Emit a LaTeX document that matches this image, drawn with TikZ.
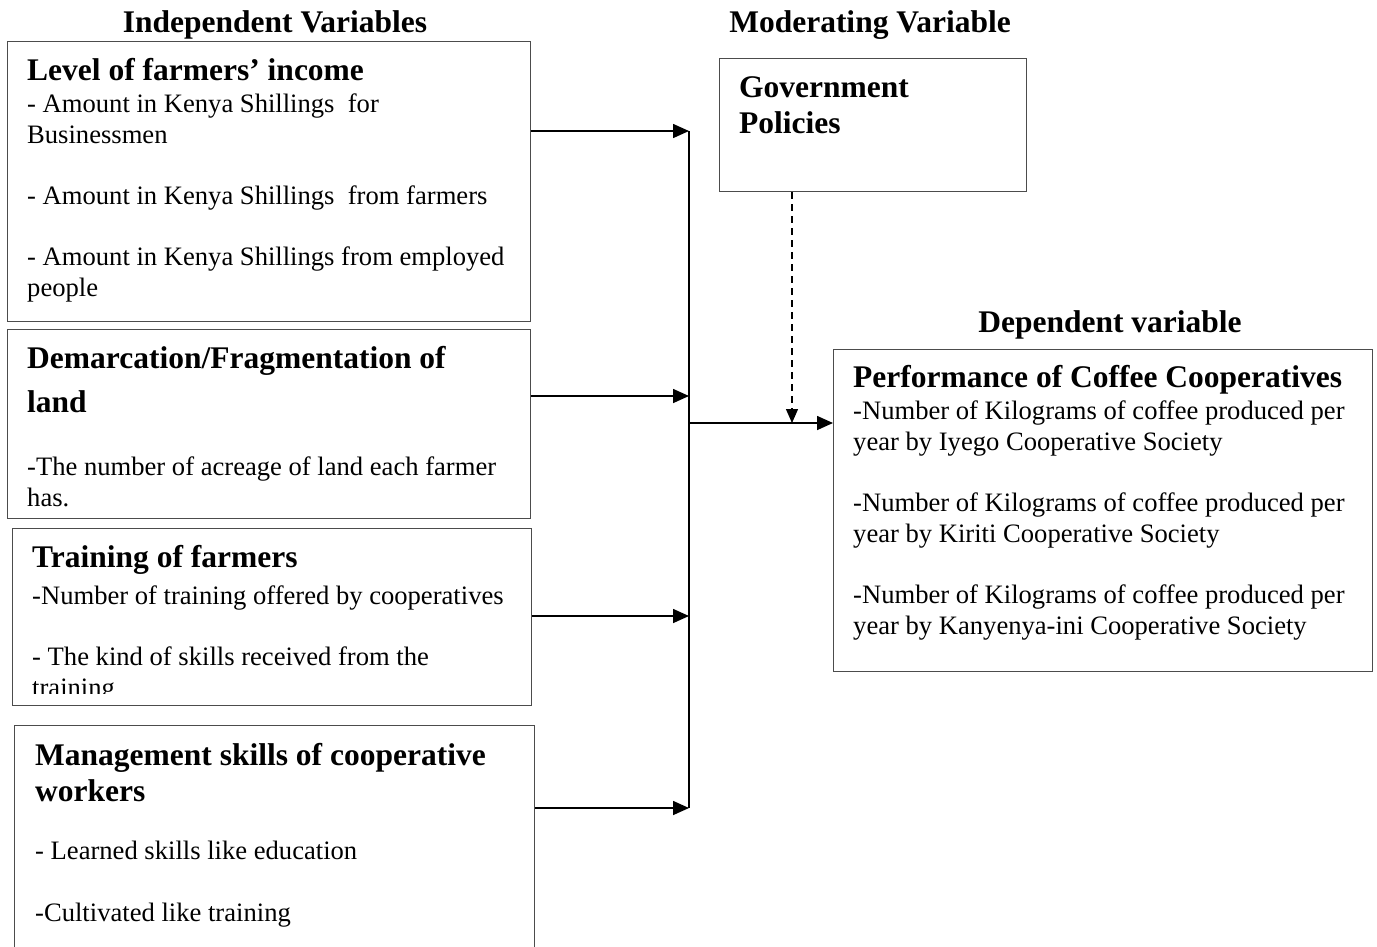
\documentclass[tikz,border=0pt]{standalone}
\usepackage{fontspec}
\setmainfont{Liberation Serif}
\usetikzlibrary{arrows.meta,positioning}

\begin{document}
\begin{tikzpicture}[x=1pt,y=-1pt,
  box/.style={draw=black!70,line width=1.1pt,anchor=north west,inner sep=0pt},
  head/.style={anchor=base west,inner sep=0pt,align=left,font=\fontsize{31.5}{36}\selectfont\bfseries},
  body/.style={anchor=base west,inner sep=0pt,align=left,font=\fontsize{26.6}{30.6}\selectfont},
  title/.style={anchor=base,inner sep=0pt,font=\fontsize{31.5}{36}\selectfont\bfseries},
  link/.style={line width=1.6pt,-{Triangle[length=16pt,width=14pt]}}]
\clip (0,0) rectangle (1377,946);
% headings
\node[title] (indep) at (275,32) {Independent Variables};
\node[title] (moder) at (870,32) {Moderating Variable};
\node[title] (depv) at (1110,332) {Dependent variable};
% boxes
\node[box,minimum width=523pt,minimum height=280pt] (inc) at (7,41) {};
\node[box,minimum width=523pt,minimum height=189pt] (land) at (7,329) {};
\node[box,minimum width=519pt,minimum height=177pt] (train) at (12,528) {};
\node[box,minimum width=520pt,minimum height=260pt] (mgmt) at (14,725) {};
\node[box,minimum width=307pt,minimum height=133pt] (gov) at (719,58) {};
\node[box,minimum width=539pt,minimum height=322pt] (perf) at (833,349) {};
% texts (placed by the baseline of their last line)
\node[head] (inchead) at (27,80) {Level of farmers’ income};
\node[body] (incbody) at (27,296) {- Amount in Kenya Shillings\ \ for\\Businessmen\\[30.6pt]- Amount in Kenya Shillings\ \ from farmers\\[30.6pt]- Amount in Kenya Shillings from employed\\people};
\node[head] (landhead) at (27,412) {Demarcation/Fragmentation of\\[8pt]land};
\node[body] (landbody) at (27,506) {-The number of acreage of land each farmer\\has.};
\node[head] (trainhead) at (32,567) {Training of farmers};
\begin{scope}
\clip (12,528) rectangle (531,693);
\node[body] (trainbody) at (32,696) {-Number of training offered by cooperatives\\[30.6pt]- The kind of skills received from the\\training};
\end{scope}
\node[head] (mgmthead) at (35,801) {Management skills of cooperative\\workers};
\node[body] (mgmtbody) at (35,921) {- Learned skills like education\\[30.6pt]-Cultivated like training};
\node[head] (govhead) at (739,133) {Government\\Policies};
\node[head] (perfhead) at (853,387) {Performance of Coffee Cooperatives};
\node[body] (perfbody) at (853,634) {-Number of Kilograms of coffee produced per\\year by Iyego Cooperative Society\\[30.6pt]-Number of Kilograms of coffee produced per\\year by Kiriti Cooperative Society\\[30.6pt]-Number of Kilograms of coffee produced per\\year by Kanyenya-ini Cooperative Society};
% connectors
\coordinate (j1) at (689,131);
\coordinate (j2) at (689,396);
\coordinate (j3) at (689,616);
\coordinate (j4) at (689,808);
\coordinate (jm) at (689,423);
\coordinate (dm) at (792,423);
\draw[link] (inc.east |- j1) -- (j1);
\draw[link] (land.east |- j2) -- (j2);
\draw[link] (train.east |- j3) -- (j3);
\draw[link] (mgmt.east |- j4) -- (j4);
\draw[line width=1.6pt] (j1) -- (j4);
\draw[link] (jm) -- (perf.west |- jm);
\draw[line width=1.3pt,dash pattern=on 7pt off 5pt,-{Triangle[length=14pt,width=12pt]}] (gov.south -| dm) -- (dm);
\end{tikzpicture}
\end{document}
